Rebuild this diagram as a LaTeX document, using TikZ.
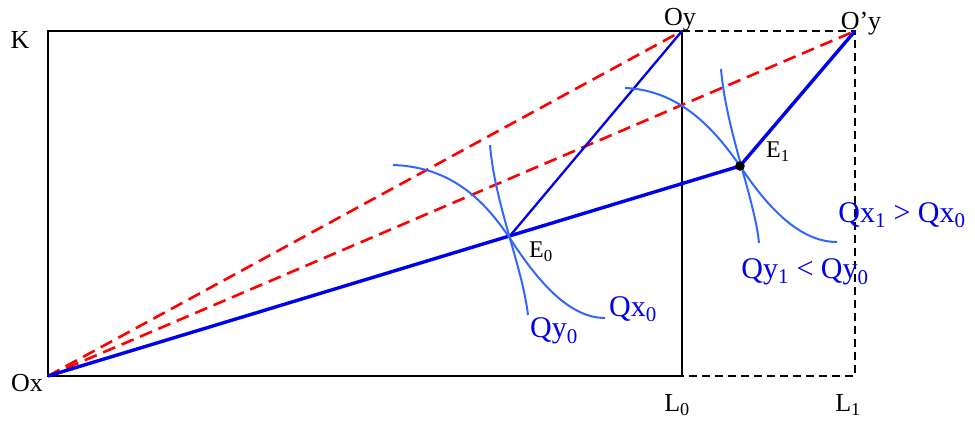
\documentclass[tikz,border=0pt]{standalone}
\usepackage{fontspec}
\setmainfont{Liberation Serif}
\definecolor{curveblue}{RGB}{51,102,255}
\definecolor{lineblue}{RGB}{0,0,240}
\definecolor{dashred}{RGB}{255,0,0}
\tikzset{
  frame/.style={draw=black,line width=2.2pt},
  dframe/.style={draw=black,line width=2pt,dash pattern=on 8pt off 5pt},
  reddash/.style={draw=dashred,line width=2.6pt,dash pattern=on 13pt off 7pt},
  thickblue/.style={draw=lineblue,line width=3.4pt},
  thinblue/.style={draw=lineblue,line width=2.3pt},
  isoq/.style={draw=curveblue,line width=2pt},
  blab/.style={font=\fontsize{26}{29}\selectfont,text=black,inner sep=0pt},
  elab/.style={font=\fontsize{24}{27}\selectfont,text=black,inner sep=0pt},
  qlab/.style={font=\fontsize{30}{33}\selectfont,text=lineblue,inner sep=0pt},
}
\begin{document}
\begin{tikzpicture}[x=1pt,y=-1pt]
\useasboundingbox (0,0) rectangle (975,421);
% points
\coordinate (Ox) at (48,376);
\coordinate (K) at (48,31);
\coordinate (Oy) at (682,31);
\coordinate (L0) at (682,376);
\coordinate (Opy) at (855,31);
\coordinate (L1) at (855,376);
\coordinate (E0) at (509,237);
\coordinate (E1) at (740,166);
% boxes
\draw[frame] (L0) -- (Ox) -- (K) -- (Oy) -- cycle;
\draw[dframe] (Oy) -- (Opy) -- (L1) -- (L0);
% red dashed diagonals
\draw[reddash] (Ox) -- (Oy);
\draw[reddash] (Ox) -- (Opy);
% blue lines
\draw[thickblue] (Ox) -- (E1);
\draw[thinblue] (Oy) -- (E0);
\draw[thickblue] (Opy) -- (E1);
% isoquants
\draw[isoq] (393,165) .. controls (455,167) and (487,205) .. (E0)
            .. controls (532,272) and (565,318) .. (605,318);
\draw[isoq] (490,145) .. controls (495,205) and (522,265) .. (528,315);
\draw[isoq] (625,88) .. controls (680,90) and (715,130) .. (E1)
            .. controls (768,208) and (800,242) .. (837,242);
\draw[isoq] (721,69) .. controls (726,130) and (755,200) .. (759,243);
% equilibrium dot
\fill[black] (E1) circle (4.8pt);
% labels
\node[blab] (lK) at (20,40) {K};
\node[blab] (lOx) at (27,383) {Ox};
\node[blab] (lOy) at (680,20) {Oy};
\node[blab] (lOpy) at (861,24) {O’y};
\node[blab] (lL0) at (677,405) {L\textsubscript{0}};
\node[blab] (lL1) at (848,405) {L\textsubscript{1}};
\node[elab] (lE0) at (541,252) {E\textsubscript{0}};
\node[elab] (lE1) at (778,152) {E\textsubscript{1}};
\node[qlab] (lQy0) at (554,331) {Qy\textsubscript{0}};
\node[qlab] (lQx0) at (633,309) {Qx\textsubscript{0}};
\node[qlab] (lQx1) at (902,215) {Qx\textsubscript{1} > Qx\textsubscript{0}};
\node[qlab] (lQy1) at (805,272) {Qy\textsubscript{1} < Qy\textsubscript{0}};
\end{tikzpicture}
\end{document}
